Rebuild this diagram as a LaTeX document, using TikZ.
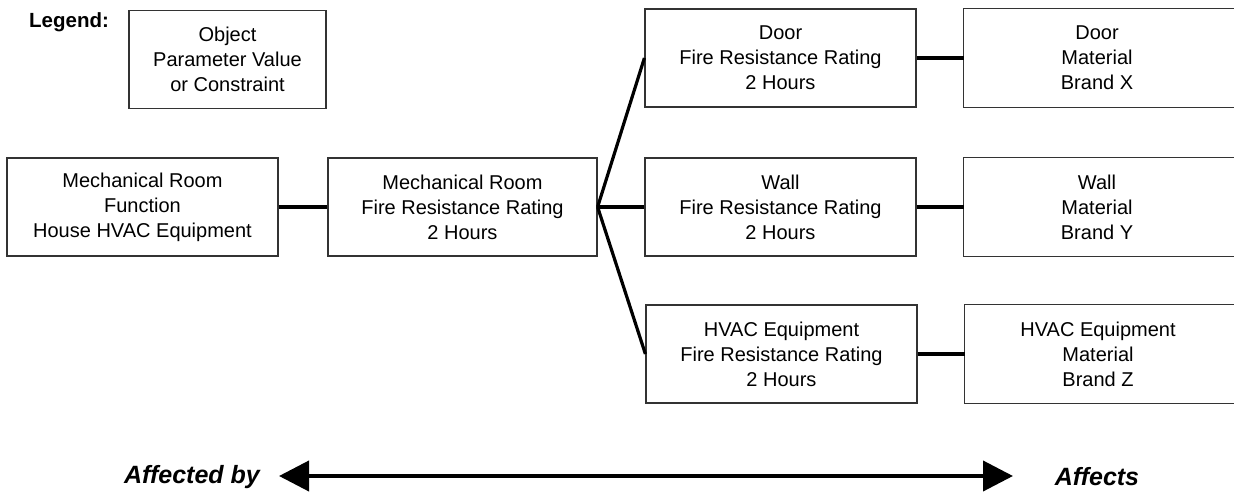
\documentclass[tikz,border=0pt]{standalone}
\usepackage{fontspec}
\setmainfont{Liberation Sans}
\usetikzlibrary{arrows.meta}
\tikzset{
  box/.style={draw=black!80, line width=1.2pt, rectangle, minimum width=#1, minimum height=98pt,
    align=center, inner sep=0pt, font=\fontsize{20}{25}\selectfont},
  box/.default=271pt,
  matbox/.style={rectangle, minimum width=266pt, minimum height=98pt,
    align=center, inner sep=0pt, font=\fontsize{20}{25}\selectfont},
  boxline/.style={draw=black!80, line width=1.2pt},
  link/.style={line width=3.2pt, black},
  lbl/.style={font=\fontsize{25}{30}\selectfont\bfseries\itshape, inner sep=0pt},
}
\begin{document}
\begin{tikzpicture}[x=1pt,y=-1pt]
\useasboundingbox (0,0) rectangle (1234,492);
% legend
\node[font=\fontsize{20.5}{24}\selectfont\bfseries, anchor=west, inner sep=0pt] (leg) at (29,22) {Legend:};
\node[box=197pt] (legbox) at (227.5,59.5) {Object\\Parameter Value\\or Constraint};
% main boxes
\node[box] (func) at (142.5,207) {Mechanical Room\\Function\\House HVAC Equipment};
\node[box=269pt] (mfrr) at (462.5,207) {Mechanical Room\\Fire Resistance Rating\\2 Hours};
\node[box] (dfrr) at (780.5,58) {Door\\Fire Resistance Rating\\2 Hours};
\node[box] (wfrr) at (780.5,207) {Wall\\Fire Resistance Rating\\2 Hours};
\node[box] (hfrr) at (781.5,354) {HVAC Equipment\\Fire Resistance Rating\\2 Hours};
\node[matbox] (dmat) at (1097,58) {Door\\Material\\Brand X};
\node[matbox] (wmat) at (1097,207) {Wall\\Material\\Brand Y};
\node[matbox] (hmat) at (1098,354) {HVAC Equipment\\Material\\Brand Z};
\foreach \n in {dmat,wmat,hmat}{
  \draw[boxline] ([xshift=20pt]\n.north east) -- (\n.north west) -- (\n.south west) -- ([xshift=20pt]\n.south east);
}
% connectors
\draw[link] (func.east) -- (mfrr.west);
\draw[link] (mfrr.east) -- (dfrr.west);
\draw[link] (mfrr.east) -- (wfrr.west);
\draw[link] (mfrr.east) -- (hfrr.west);
\draw[link] (dfrr.east) -- (dmat.west);
\draw[link] (wfrr.east) -- (wmat.west);
\draw[link] (hfrr.east) -- (hmat.west);
% bottom arrow
\node[lbl] (aby) at (192,477) {Affected by};
\node[lbl] (aff) at (1097,477) {Affects};
\coordinate (al) at (279,476);
\coordinate (ar) at (1013,476);
\draw[line width=4pt, {Triangle[length=30pt,width=30pt]}-{Triangle[length=30pt,width=30pt]}] (al) -- (ar);
\end{tikzpicture}
\end{document}
